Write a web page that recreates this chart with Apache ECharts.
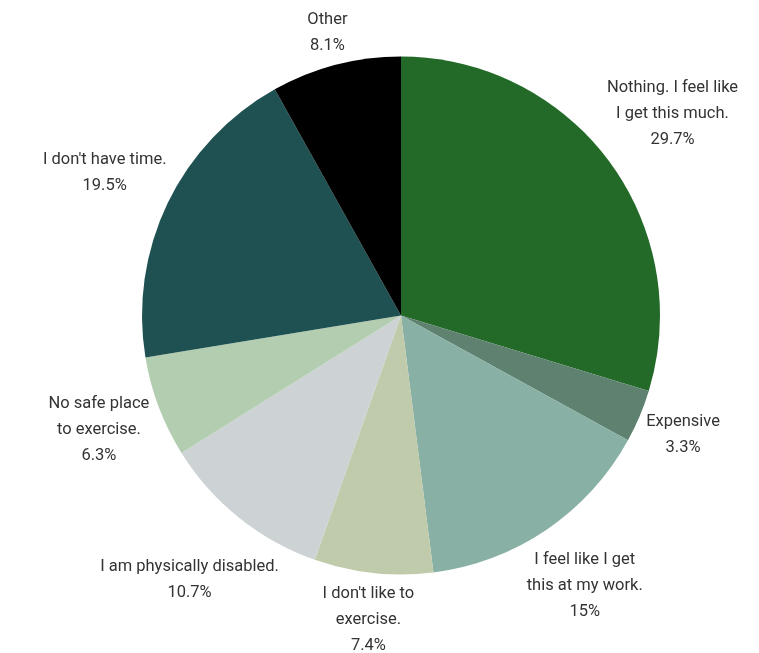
<!DOCTYPE html>
<html>
<head>
<meta charset="utf-8">
<script src="https://cdn.jsdelivr.net/npm/echarts@6/dist/echarts.min.js"></script>
<style>html,body{margin:0;padding:0;background:#fff}#c{width:759px;height:653px}</style>
</head>
<body>
<div id="c"></div>
<script>
const categories = [
  "Nothing. I feel like\nI get this much.",
  "Expensive",
  "I feel like I get\nthis at my work.",
  "I don't like to\nexercise.",
  "I am physically disabled.",
  "No safe place\nto exercise.",
  "I don't have time.",
  "Other"
];
const values = [29.7, 3.3, 15, 7.4, 10.7, 6.3, 19.5, 8.1];
const colors = ["#236a29", "#5f8270", "#88b0a5", "#bfcbaa", "#cdd2d4", "#b3cdb0", "#1f5152", "#000000"];

const CX = 401, CY = 315.5, R = 259, GAP = 3;
const total = values.reduce((a, b) => a + b, 0);
const midAngles = [];
let acc = 0;
values.forEach(v => { midAngles.push((acc + v / 2) / total * 2 * Math.PI); acc += v; });

const chart = echarts.init(document.getElementById('c'));
chart.setOption({
  animation: false,
  series: [{
    type: 'pie',
    center: [CX, CY],
    radius: R,
    startAngle: 90,
    clockwise: true,
    data: categories.map((c, i) => ({ name: c, value: values[i], itemStyle: { color: colors[i] } })),
    label: {
      show: true,
      position: 'outside',
      formatter: p => p.name + '\n' + p.value + '%',
      fontFamily: "'Roboto', sans-serif",
      fontSize: 16.5,
      lineHeight: 26,
      color: '#333',
      overflow: 'none',
      edgeDistance: 0
    },
    labelLine: { show: false, length: 0, length2: 0 },
    labelLayout: function (params) {
      const i = params.dataIndex;
      const a = midAngles[i];
      const dx = Math.sin(a), dy = -Math.cos(a);
      const w = params.labelRect.width, h = params.labelRect.height;
      const half = Math.abs(dx) * w / 2 + Math.abs(dy) * h / 2;
      const d = R + GAP + half;
      return { x: CX + dx * d, y: CY + dy * d, align: 'center', verticalAlign: 'middle' };
    }
  }]
});
</script>
</body>
</html>
